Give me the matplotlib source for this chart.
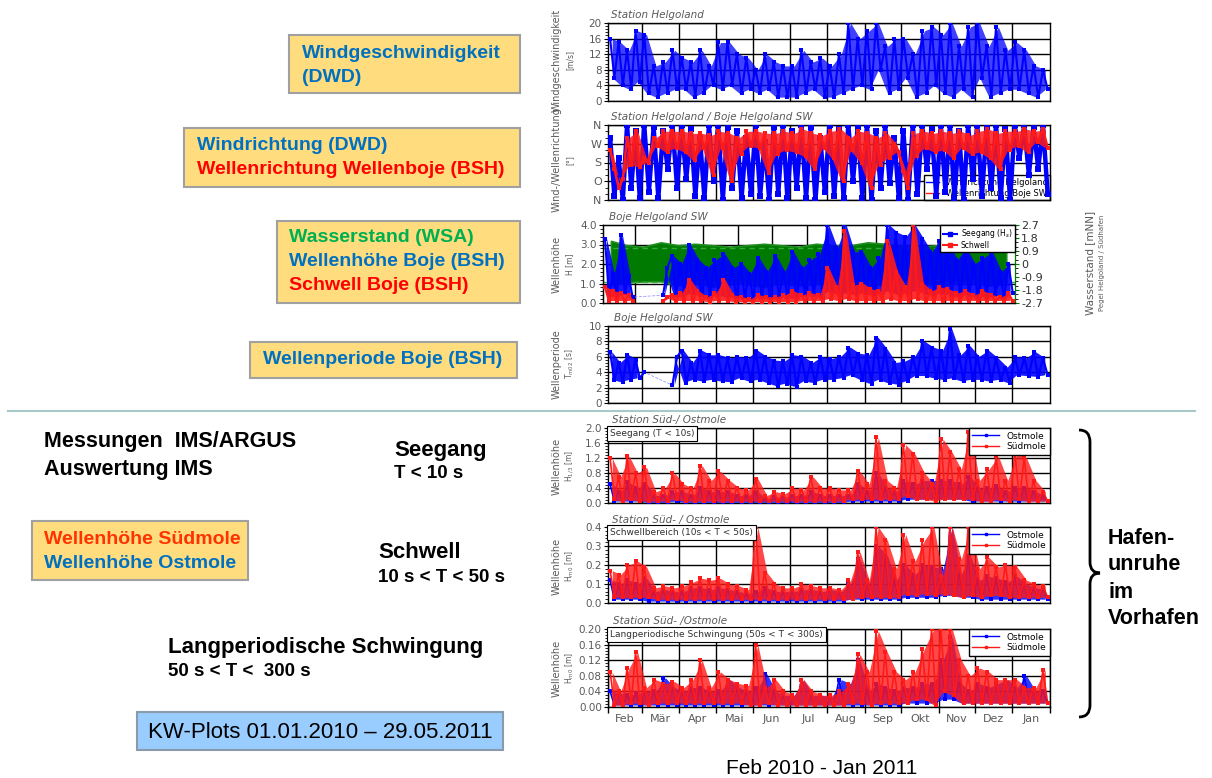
import matplotlib
matplotlib.use("Agg")
import matplotlib.pyplot as plt
import numpy as np
from matplotlib.ticker import AutoMinorLocator, FormatStrFormatter
from matplotlib.patches import Rectangle, PathPatch
from matplotlib.path import Path
from matplotlib.lines import Line2D

# ---- data (8 values per month: peaks / troughs) ----
months = ["Feb", "Mär", "Apr", "Mai", "Jun", "Jul", "Aug", "Sep", "Okt", "Nov", "Dez", "Jan"]
month_days = [28, 31, 30, 31, 30, 31, 31, 30, 31, 30, 31, 31]

wind_speed = [
    16, 6, 15, 4, 13, 3, 18, 5,
    17, 2, 9, 1, 10, 2, 13, 3,
    11, 3, 10, 1, 13, 2, 9, 4,
    15, 3, 15, 4, 12, 2, 11, 3,
    8, 2, 12, 3, 10, 1, 9, 1,
    9, 1, 13, 2, 10, 3, 11, 1,
    9, 1, 12, 2, 20, 3, 16, 4,
    18, 3, 20, 8, 14, 2, 16, 3,
    16, 6, 12, 1, 18, 2, 19, 4,
    17, 2, 20, 1, 14, 3, 19, 1,
    20, 6, 14, 1, 19, 2, 13, 3,
    15, 3, 13, 2, 9, 1, 8, 3]

wind_dir = [
    300, 20, 200, 0, 360, 60, 330, 10,
    360, 40, 350, 10, 330, 150, 360, 60,
    360, 100, 340, 20, 300, 10, 360, 90,
    360, 0, 350, 60, 330, 10, 300, 30,
    360, 20, 280, 0, 350, 30, 360, 10,
    330, 60, 360, 10, 350, 0, 300, 40,
    360, 20, 340, 10, 360, 90, 350, 10,
    360, 0, 330, 60, 360, 80, 300, 10,
    330, 0, 360, 30, 360, 150, 340, 20,
    360, 40, 360, 10, 330, 0, 360, 100,
    360, 20, 350, 60, 360, 10, 340, 0,
    360, 200, 360, 120, 350, 150, 360, 30]

wave_dir = [
    240, 150, 60, 100, 300, 170, 330, 160,
    200, 180, 300, 260, 330, 230, 330, 250,
    330, 230, 320, 190, 320, 250, 310, 120,
    330, 250, 320, 90, 300, 220, 330, 260,
    330, 250, 320, 130, 320, 220, 330, 240,
    320, 230, 340, 210, 320, 150, 310, 250,
    330, 200, 340, 90, 300, 240, 330, 180,
    320, 60, 300, 170, 320, 200, 270, 230,
    140, 60, 320, 210, 330, 250, 320, 230,
    330, 240, 320, 200, 330, 250, 310, 220,
    330, 230, 340, 200, 320, 150, 330, 240,
    330, 260, 340, 230, 330, 280, 340, 250]

nan = np.nan
buoy_hs = [
    3.3, 0.4, 1.5, 0.3, 3.5, 0.5, 1.4, 0.3,
    nan, nan, nan, nan, nan, nan, 0.4, 1.8,
    2.4, 0.4, 2.0, 0.3, 3.0, 0.5, 2.2, 0.4,
    1.8, 0.3, 2.2, 0.4, 2.5, 0.3, 1.8, 0.3,
    2.0, 0.3, 1.5, 0.2, 2.3, 0.3, 1.6, 0.2,
    2.4, 0.3, 1.6, 0.3, 2.6, 0.2, 1.8, 0.4,
    2.2, 0.4, 2.5, 0.3, 4.0, 0.6, 2.8, 0.4,
    4.0, 0.5, 2.6, 0.4, 2.6, 0.5, 1.8, 0.4,
    2.3, 0.5, 4.0, 0.6, 3.6, 0.4, 3.4, 0.5,
    4.0, 0.6, 3.3, 0.5, 2.6, 0.4, 3.2, 0.5,
    3.0, 0.4, 2.2, 0.3, 2.8, 0.4, 2.0, 0.3,
    2.3, 0.3, 2.6, 0.4, 1.6, 0.3, 2.0, 0.5]

buoy_swell = [
    0.8, 0.1, 0.6, 0.1, 0.5, 0.1, 0.4, 0.1,
    nan, nan, nan, nan, nan, nan, 0.1, 0.3,
    0.4, 0.1, 0.5, 0.1, 1.2, 0.1, 0.6, 0.1,
    0.3, 0.05, 0.5, 0.1, 1.2, 0.1, 0.4, 0.05,
    0.3, 0.05, 0.2, 0.05, 0.4, 0.05, 0.3, 0.05,
    0.3, 0.05, 0.4, 0.05, 0.6, 0.05, 0.4, 0.1,
    0.5, 0.1, 0.4, 0.1, 1.8, 0.2, 0.8, 0.1,
    3.7, 0.2, 0.9, 0.1, 1.0, 0.1, 0.7, 0.1,
    0.6, 0.1, 3.2, 0.2, 1.6, 0.1, 0.8, 0.1,
    4.0, 0.2, 1.0, 0.1, 0.6, 0.1, 0.8, 0.1,
    0.7, 0.1, 0.5, 0.1, 0.6, 0.1, 0.4, 0.1,
    0.6, 0.1, 0.4, 0.1, 0.3, 0.1, 0.5, 0.1]

# water level envelope, 2 values per month [mNN]
level_high = [1.6, 1.3, 1.2, 1.5, 1.3, 1.4, 1.3, 1.2, 1.3, 1.4, 1.3, 1.2,
              1.4, 1.3, 1.3, 1.5, 1.4, 1.3, 1.2, 1.3, 1.3, 1.2, 1.4, 1.5]
level_low = [-1.5, -1.3, -1.2, -1.2, -1.5, -1.3, -1.6, -1.3, -1.4, -1.6, -1.3, -1.5,
             -1.4, -1.2, -1.3, -1.5, -1.4, -1.2, -1.3, -1.5, -1.4, -1.3, -1.5, -1.4]
mthw, mtnw = 1.12, -1.24

buoy_period = [
    6.6, 3.0, 5.2, 2.7, 6.2, 3.0, 5.6, 3.2,
    4.0, nan, nan, nan, nan, nan, 2.3, 6.0,
    6.8, 2.6, 5.2, 3.0, 6.8, 2.8, 6.2, 3.0,
    6.2, 2.8, 5.8, 2.7, 6.0, 3.2, 5.8, 2.8,
    6.8, 3.0, 6.0, 2.6, 5.5, 2.2, 5.4, 2.5,
    6.2, 2.1, 6.0, 2.8, 5.2, 2.6, 6.0, 3.0,
    5.7, 3.0, 6.0, 3.2, 7.2, 3.6, 6.4, 3.0,
    6.2, 2.5, 8.5, 3.0, 7.0, 2.6, 5.2, 2.4,
    5.4, 2.8, 6.0, 3.5, 8.0, 3.5, 7.2, 3.2,
    6.8, 3.0, 9.6, 3.2, 6.2, 2.8, 7.4, 3.0,
    6.0, 3.0, 6.8, 2.8, 5.8, 3.0, 4.6, 2.6,
    6.0, 3.6, 5.8, 3.5, 6.6, 3.4, 5.8, 3.6]

sea_sued = [
    1.2, 0.1, 0.7, 0.05, 1.25, 0.1, 0.8, 0.05,
    0.95, 0.05, 0.3, 0.05, 0.4, 0.05, 0.8, 0.1,
    0.5, 0.05, 0.4, 0.05, 1.0, 0.05, 0.6, 0.05,
    0.85, 0.05, 0.6, 0.05, 0.4, 0.05, 0.35, 0.05,
    0.65, 0.05, 0.2, 0.05, 0.3, 0.05, 0.25, 0.05,
    0.4, 0.05, 0.35, 0.05, 0.7, 0.05, 0.4, 0.05,
    0.4, 0.05, 0.35, 0.05, 0.35, 0.1, 0.85, 0.1,
    0.5, 0.1, 1.75, 0.1, 0.6, 0.1, 0.4, 0.1,
    1.55, 0.2, 1.3, 0.1, 0.8, 0.1, 0.5, 0.05,
    1.7, 0.1, 1.35, 0.1, 0.9, 0.1, 1.9, 0.1,
    0.6, 0.05, 0.9, 0.05, 1.25, 0.1, 0.6, 0.05,
    1.35, 0.1, 1.2, 0.05, 0.6, 0.05, 0.3, 0.05]

sea_ost = [
    0.5, 0.05, 0.3, 0.05, 0.55, 0.05, 0.4, 0.05,
    0.5, 0.02, 0.2, 0.02, 0.2, 0.02, 0.3, 0.05,
    0.3, 0.02, 0.2, 0.02, 0.4, 0.02, 0.3, 0.02,
    0.3, 0.02, 0.3, 0.02, 0.2, 0.02, 0.2, 0.02,
    0.3, 0.02, 0.1, 0.02, 0.15, 0.02, 0.15, 0.02,
    0.2, 0.02, 0.2, 0.02, 0.3, 0.02, 0.2, 0.02,
    0.2, 0.02, 0.2, 0.02, 0.2, 0.05, 0.5, 0.05,
    0.3, 0.05, 0.8, 0.05, 0.4, 0.05, 0.3, 0.05,
    0.6, 0.1, 0.5, 0.1, 0.6, 0.1, 0.6, 0.1,
    0.6, 0.1, 0.6, 0.1, 0.5, 0.1, 0.7, 0.05,
    0.4, 0.05, 0.4, 0.05, 0.45, 0.05, 0.3, 0.05,
    0.4, 0.05, 0.4, 0.05, 0.3, 0.05, 0.2, 0.05]

swell_sued = [
    0.17, 0.03, 0.15, 0.03, 0.2, 0.03, 0.22, 0.03,
    0.19, 0.03, 0.08, 0.02, 0.09, 0.02, 0.08, 0.02,
    0.09, 0.02, 0.11, 0.02, 0.13, 0.02, 0.12, 0.02,
    0.13, 0.02, 0.1, 0.02, 0.09, 0.02, 0.07, 0.02,
    0.4, 0.02, 0.16, 0.02, 0.1, 0.02, 0.08, 0.02,
    0.08, 0.02, 0.1, 0.02, 0.09, 0.02, 0.08, 0.02,
    0.08, 0.02, 0.07, 0.02, 0.12, 0.02, 0.27, 0.03,
    0.12, 0.03, 0.4, 0.03, 0.33, 0.03, 0.18, 0.03,
    0.36, 0.05, 0.22, 0.04, 0.33, 0.05, 0.4, 0.04,
    0.14, 0.05, 0.4, 0.04, 0.23, 0.03, 0.4, 0.04,
    0.18, 0.03, 0.24, 0.04, 0.19, 0.04, 0.2, 0.03,
    0.19, 0.03, 0.12, 0.03, 0.1, 0.03, 0.09, 0.03]

swell_ost = [
    0.12, 0.02, 0.1, 0.02, 0.12, 0.02, 0.1, 0.02,
    0.13, 0.01, 0.06, 0.01, 0.07, 0.01, 0.06, 0.01,
    0.06, 0.01, 0.08, 0.01, 0.08, 0.01, 0.07, 0.01,
    0.08, 0.01, 0.07, 0.01, 0.06, 0.01, 0.05, 0.01,
    0.06, 0.01, 0.08, 0.01, 0.06, 0.01, 0.06, 0.01,
    0.06, 0.01, 0.07, 0.01, 0.07, 0.01, 0.06, 0.01,
    0.07, 0.01, 0.06, 0.01, 0.1, 0.02, 0.23, 0.02,
    0.1, 0.02, 0.3, 0.02, 0.25, 0.02, 0.12, 0.02,
    0.2, 0.03, 0.15, 0.03, 0.2, 0.03, 0.19, 0.03,
    0.18, 0.04, 0.4, 0.04, 0.15, 0.03, 0.25, 0.03,
    0.12, 0.02, 0.14, 0.02, 0.13, 0.02, 0.11, 0.02,
    0.14, 0.02, 0.1, 0.02, 0.08, 0.02, 0.07, 0.02]

long_sued = [
    0.09, 0.005, 0.04, 0.005, 0.1, 0.01, 0.14, 0.01,
    0.05, 0.005, 0.07, 0.01, 0.06, 0.01, 0.065, 0.01,
    0.05, 0.01, 0.07, 0.01, 0.12, 0.01, 0.05, 0.01,
    0.09, 0.01, 0.07, 0.01, 0.06, 0.01, 0.055, 0.005,
    0.16, 0.005, 0.05, 0.01, 0.07, 0.005, 0.04, 0.005,
    0.03, 0.005, 0.07, 0.005, 0.04, 0.005, 0.03, 0.005,
    0.03, 0.005, 0.04, 0.005, 0.06, 0.01, 0.135, 0.01,
    0.09, 0.005, 0.195, 0.01, 0.14, 0.01, 0.09, 0.01,
    0.07, 0.01, 0.09, 0.02, 0.15, 0.02, 0.2, 0.005,
    0.2, 0.04, 0.2, 0.03, 0.12, 0.01, 0.08, 0.01,
    0.1, 0.01, 0.09, 0.01, 0.07, 0.01, 0.07, 0.01,
    0.07, 0.01, 0.05, 0.01, 0.05, 0.01, 0.095, 0.01]

long_ost = [
    0.04, 0.005, 0.035, 0.005, 0.03, 0.005, 0.035, 0.005,
    0.04, 0.005, 0.04, 0.005, 0.075, 0.005, 0.05, 0.005,
    0.04, 0.005, 0.05, 0.005, 0.05, 0.005, 0.04, 0.005,
    0.04, 0.005, 0.07, 0.005, 0.05, 0.005, 0.04, 0.005,
    0.05, 0.005, 0.085, 0.005, 0.04, 0.005, 0.03, 0.005,
    0.03, 0.005, 0.07, 0.005, 0.03, 0.005, 0.03, 0.005,
    0.025, 0.005, 0.07, 0.005, 0.06, 0.005, 0.12, 0.005,
    0.04, 0.005, 0.06, 0.005, 0.05, 0.005, 0.04, 0.005,
    0.05, 0.01, 0.05, 0.01, 0.06, 0.01, 0.06, 0.01,
    0.12, 0.02, 0.18, 0.02, 0.06, 0.01, 0.04, 0.01,
    0.06, 0.01, 0.05, 0.01, 0.06, 0.01, 0.07, 0.01,
    0.05, 0.01, 0.08, 0.01, 0.04, 0.01, 0.04, 0.01]

# ---- time axis: days since 1 Feb 2010 ----
bounds = np.concatenate([[0], np.cumsum(month_days)])
t8 = np.concatenate([b + (np.arange(8) + 0.5) * d / 8 for b, d in zip(bounds[:-1], month_days)])
tp = (t8[0::2] + t8[1::2]) / 2
t2 = np.concatenate([b + (np.arange(2) + 0.5) * d / 2 for b, d in zip(bounds[:-1], month_days)])
mid = bounds[:-1] + np.array(month_days) / 2

W, H = 1212, 778
fig = plt.figure(figsize=(W / 100, H / 100), dpi=100)
plt.rcParams["font.family"] = "DejaVu Sans"

BLUE, RED, GREEN = "#0000FF", "#FF1A1A", "#007A00"
GREY = "#5A5A5A"


def axes_px(l, t, r, b):
    return fig.add_axes([l / W, 1 - b / H, (r - l) / W, (b - t) / H])


def ftext(x, y, s, **kw):
    return fig.text(x / W, 1 - y / H, s, **kw)


def style(ax, ylim, yticks, fmt, grid=True):
    ax.set_xlim(0, 365)
    ax.set_ylim(*ylim)
    ax.set_xticks(bounds[1:-1])
    ax.tick_params(axis="x", length=0, labelbottom=False)
    ax.set_yticks(yticks)
    ax.yaxis.set_major_formatter(FormatStrFormatter(fmt))
    ax.yaxis.set_minor_locator(AutoMinorLocator(5))
    ax.tick_params(axis="y", labelsize=7.5, labelcolor=GREY, length=3, width=0.8, pad=1.5)
    ax.tick_params(axis="y", which="minor", length=2, width=0.6)
    if grid:
        ax.grid(True, color="black", lw=1)
    ax.set_axisbelow(True)
    for s in ax.spines.values():
        s.set_linewidth(1)


def panel_labels(title, tx, ty, lab1, lab2, ly):
    ftext(tx, ty, title, fontsize=7.5, style="italic", color=GREY, va="center")
    ftext(557, ly, lab1, fontsize=7, color=GREY, rotation=90, ha="center", va="center")
    ftext(570, ly, lab2, fontsize=5.5, color=GREY, rotation=90, ha="center", va="center")


def dense(ax, y, color, lw=1.3, ms=2.5, z=3, alpha=1.0):
    # peak/trough pairs: filled envelope plus the zigzag through them
    y = np.asarray(y, float)
    if alpha > 0:
        ax.fill_between(tp, y[0::2], y[1::2], color=color, lw=0, alpha=alpha, zorder=z)
    ax.plot(t8, y, color=color, lw=lw, marker="s", ms=ms, mew=0, zorder=z)


# ---- panel 1: wind speed ----
ax1 = axes_px(608, 23, 1050, 101)
style(ax1, (0, 20), range(0, 21, 4), "%d")
dense(ax1, wind_speed, BLUE, lw=1.5, ms=3, alpha=0.75)
panel_labels("Station Helgoland", 611, 15, "Windgeschwindigkeit", "[m/s]", 60)

# ---- panel 2: directions ----
ax2 = axes_px(608, 125, 1050, 200)
style(ax2, (0, 360), [0, 90, 180, 270, 360], "%d")
ax2.set_yticklabels(["N", "O", "S", "W", "N"])
ax2.yaxis.set_minor_locator(AutoMinorLocator(3))
ax2.tick_params(axis="y", labelsize=8)
dense(ax2, wind_dir, BLUE, lw=3.2, ms=4, alpha=0)
dense(ax2, wave_dir, RED, lw=1.8, ms=3.5, z=4, alpha=0.85)
leg = ax2.legend([Line2D([], [], color=BLUE, lw=1), Line2D([], [], color=RED, lw=1)],
                 ["Windrichtung Helgoland", "Wellenrichtung Boje SW"],
                 loc="lower right", bbox_to_anchor=(1, 0), borderaxespad=0, fontsize=6,
                 fancybox=False, edgecolor="black", framealpha=1, handlelength=1.5,
                 labelspacing=0.2, borderpad=0.3)
leg.set_zorder(2)
panel_labels("Station Helgoland / Boje Helgoland SW", 611, 117, "Wind-/Wellenrichtung", "[°]", 160)

# ---- panel 3: wave height buoy + water level ----
ax3bg = axes_px(603, 225, 1015, 303)
ax3bg.set_xlim(0, 365)
ax3bg.set_ylim(0, 4)
ax3bg.set_xticks(bounds[1:-1])
ax3bg.set_yticks([1, 2, 3])
ax3bg.tick_params(length=0, labelleft=False, labelbottom=False)
ax3bg.grid(True, color="black", lw=1)
ax3bg.set_zorder(0)

ax3w = axes_px(603, 225, 1015, 303)
ax3w.patch.set_visible(False)
ax3w.set_zorder(1)
ax3w.set_xlim(0, 365)
ax3w.set_ylim(-2.7, 2.7)
ax3w.yaxis.tick_right()
ax3w.set_yticks([-2.7, -1.8, -0.9, 0, 0.9, 1.8, 2.7])
ax3w.set_yticklabels(["-2.7", "-1.8", "-0.9", "0", "0.9", "1.8", "2.7"])
ax3w.yaxis.set_minor_locator(AutoMinorLocator(3))
ax3w.tick_params(axis="y", colors=GREEN, labelcolor="#303030", labelsize=8, length=3, pad=1.5)
ax3w.tick_params(axis="y", which="minor", length=2)
ax3w.tick_params(axis="x", length=0, labelbottom=False)
for k in ["left", "top", "bottom"]:
    ax3w.spines[k].set_visible(False)
ax3w.spines["right"].set_color(GREEN)
ax3w.fill_between(t2, level_low, level_high, color=GREEN, lw=1.2, edgecolor="#1f8f1f")
ax3w.axhline(mthw, color="#33AA33", lw=1, ls=(0, (4, 3)))
ax3w.axhline(mtnw, color="#33AA33", lw=1, ls=(0, (4, 3)))

ax3 = axes_px(603, 225, 1015, 303)
ax3.patch.set_visible(False)
ax3.set_zorder(2)
style(ax3, (0, 4), [0, 1, 2, 3, 4], "%.1f", grid=False)
ax3.spines["right"].set_visible(False)
hs = np.array(buoy_hs)
ok = ~np.isnan(hs)
ax3.plot(t8[ok], hs[ok], color="#9999FF", lw=0.6, ls="--", zorder=2)
dense(ax3, buoy_hs, BLUE, lw=1.5, ms=3, alpha=0.9)
dense(ax3, buoy_swell, RED, lw=1.5, ms=3, z=4, alpha=0.9)
ax3.legend([Line2D([], [], color=BLUE, lw=1.5, ls="--", marker="s", ms=2.5),
            Line2D([], [], color=RED, lw=1.5, ls="--", marker="s", ms=2.5)],
           ["Seegang (H$_s$)", "Schwell"], loc="upper right", bbox_to_anchor=(1, 1),
           borderaxespad=0, fontsize=5.5, fancybox=False, edgecolor="black", framealpha=1,
           handlelength=2, handletextpad=0.4, labelspacing=0.1, borderpad=0.3)
panel_labels("Boje Helgoland SW", 609, 217, "Wellenhöhe", "H [m]", 264)
ftext(1090, 263, "Wasserstand [mNN]", fontsize=7.5, color=GREY, rotation=90, ha="center", va="center")
ftext(1102, 263, "Pegel Helgoland / Südhafen", fontsize=5, color=GREY, rotation=90, ha="center", va="center")

# ---- panel 4: wave period ----
ax4 = axes_px(608, 326, 1050, 403)
style(ax4, (0, 10), range(0, 11, 2), "%d")
per = np.array(buoy_period)
ok = ~np.isnan(per)
ax4.plot(t8[ok], per[ok], color="#9999FF", lw=0.6, ls="--", zorder=2)
dense(ax4, buoy_period, BLUE, lw=1.6, ms=3, alpha=0.9)
panel_labels("Boje Helgoland SW", 614, 318, "Wellenperiode", "T$_{m02}$ [s]", 364)


# ---- panels 5-7: harbour ----
def harbour(ax, ost, sued, box):
    dense(ax, ost, BLUE, lw=1.2, ms=2.4, alpha=0.8)
    dense(ax, sued, RED, lw=1.2, ms=2.4, z=4, alpha=0.8)
    ax.legend([Line2D([], [], color=BLUE, lw=1, marker="s", ms=2),
               Line2D([], [], color=RED, lw=1, marker="s", ms=2)],
              ["Ostmole", "Südmole"], loc="upper right", bbox_to_anchor=(1, 1),
              borderaxespad=0, fontsize=6.5, fancybox=False, edgecolor="black",
              framealpha=1, handlelength=3, labelspacing=0.2, borderpad=0.4)
    ax.text(0.004, 0.985, box, transform=ax.transAxes, va="top", ha="left", fontsize=6.5,
            color="#303030", zorder=6,
            bbox=dict(boxstyle="square,pad=0.35", facecolor="white", edgecolor="black", lw=0.8))


ax5 = axes_px(608, 428, 1050, 503)
style(ax5, (0, 2.0), np.arange(0, 2.01, 0.4), "%.1f")
harbour(ax5, sea_ost, sea_sued, "Seegang (T < 10s)")
panel_labels("Station Süd-/ Ostmole", 612, 420, "Wellenhöhe", "H$_{1/3}$ [m]", 466)

ax6 = axes_px(608, 527, 1050, 603)
style(ax6, (0, 0.4), np.arange(0, 0.41, 0.1), "%.1f")
harbour(ax6, swell_ost, swell_sued, "Schwellbereich (10s < T < 50s)")
panel_labels("Station Süd- / Ostmole", 612, 520, "Wellenhöhe", "H$_{m0}$ [m]", 566)

ax7 = axes_px(608, 629, 1050, 707)
style(ax7, (0, 0.2), np.arange(0, 0.201, 0.04), "%.2f")
harbour(ax7, long_ost, long_sued, "Langperiodische Schwingung (50s < T < 300s)")
ax7.set_xticks(bounds)
ax7.tick_params(axis="x", which="major", length=4, width=1, labelbottom=False)
ax7.set_xticks(mid, minor=True)
ax7.set_xticklabels(months, minor=True)
ax7.tick_params(axis="x", which="minor", length=0, labelsize=8, labelcolor=GREY, pad=5)
panel_labels("Station Süd- /Ostmole", 613, 621, "Wellenhöhe", "H$_{m0}$ [m]", 668)

# ---- slide annotations ----
SLIDE = "Liberation Sans"
TBLUE, TRED, TGREEN, TORANGE = "#0070C0", "#FF0000", "#00B050", "#FF3300"


def box(l, t, r, b, fc, ec="#A0A0A0"):
    fig.add_artist(Rectangle((l / W, 1 - b / H), (r - l) / W, (b - t) / H,
                             transform=fig.transFigure, facecolor=fc, edgecolor=ec, lw=1.5))


def stext(x, y, s, size=14, color="black", weight="bold"):
    ftext(x, y, s, fontsize=size, color=color, fontweight=weight, family=SLIDE, va="center")


YEL = "#FFDC7E"
box(289, 35, 520, 93, YEL)
stext(302, 53, "Windgeschwindigkeit", color=TBLUE)
stext(302, 77, "(DWD)", color=TBLUE)
box(184, 128, 520, 187, YEL)
stext(197, 145, "Windrichtung (DWD)", color=TBLUE)
stext(197, 169, "Wellenrichtung Wellenboje (BSH)", color=TRED)
box(277, 221, 520, 303, YEL)
stext(289, 238, "Wasserstand (WSA)", color=TGREEN)
stext(289, 262, "Wellenhöhe Boje (BSH)", color=TBLUE)
stext(289, 285, "Schwell Boje (BSH)", color=TRED)
box(250, 342, 517, 378, YEL)
stext(263, 360, "Wellenperiode Boje (BSH)", color=TBLUE)

fig.add_artist(Line2D([8 / W, 1195 / W], [1 - 411 / H] * 2, transform=fig.transFigure,
                      color="#A9C9C9", lw=1.5))

stext(44, 442, "Messungen  IMS/ARGUS", size=15.5)
stext(44, 470, "Auswertung IMS", size=15.5)
stext(394, 450, "Seegang", size=16)
stext(394, 474, "T < 10 s", size=13.5)
box(32, 521, 248, 580, YEL)
stext(44, 539, "Wellenhöhe Südmole", color=TORANGE)
stext(44, 563, "Wellenhöhe Ostmole", color=TBLUE)
stext(378, 553, "Schwell", size=16)
stext(378, 578, "10 s < T < 50 s", size=13.5)
stext(168, 647, "Langperiodische Schwingung", size=16)
stext(168, 671, "50 s < T <  300 s", size=13.5)
box(137, 712, 503, 750, "#99CCFF", ec="#8A9AAA")
stext(148, 732, "KW-Plots 01.01.2010 – 29.05.2011", size=16, weight="normal")

for i, s in enumerate(["Hafen-", "unruhe", "im", "Vorhafen"]):
    stext(1108, 538 + 27 * i, s, size=15.5)

# curly brace
bp = [(1079, 430), (1090, 430), (1090, 442), (1090, 562), (1090, 573), (1100, 573),
      (1090, 573), (1090, 584), (1090, 705), (1090, 717), (1079, 717)]
codes = [Path.MOVETO, Path.CURVE3, Path.CURVE3, Path.LINETO, Path.CURVE3, Path.CURVE3,
         Path.CURVE3, Path.CURVE3, Path.LINETO, Path.CURVE3, Path.CURVE3]
fig.add_artist(PathPatch(Path([(x / W, 1 - y / H) for x, y in bp], codes),
                         transform=fig.transFigure, fill=False, lw=2, edgecolor="black"))

ftext(822, 768, "Feb 2010 - Jan 2011", fontsize=15, family=SLIDE, ha="center", va="center")

fig.savefig("out.png", dpi=100)
